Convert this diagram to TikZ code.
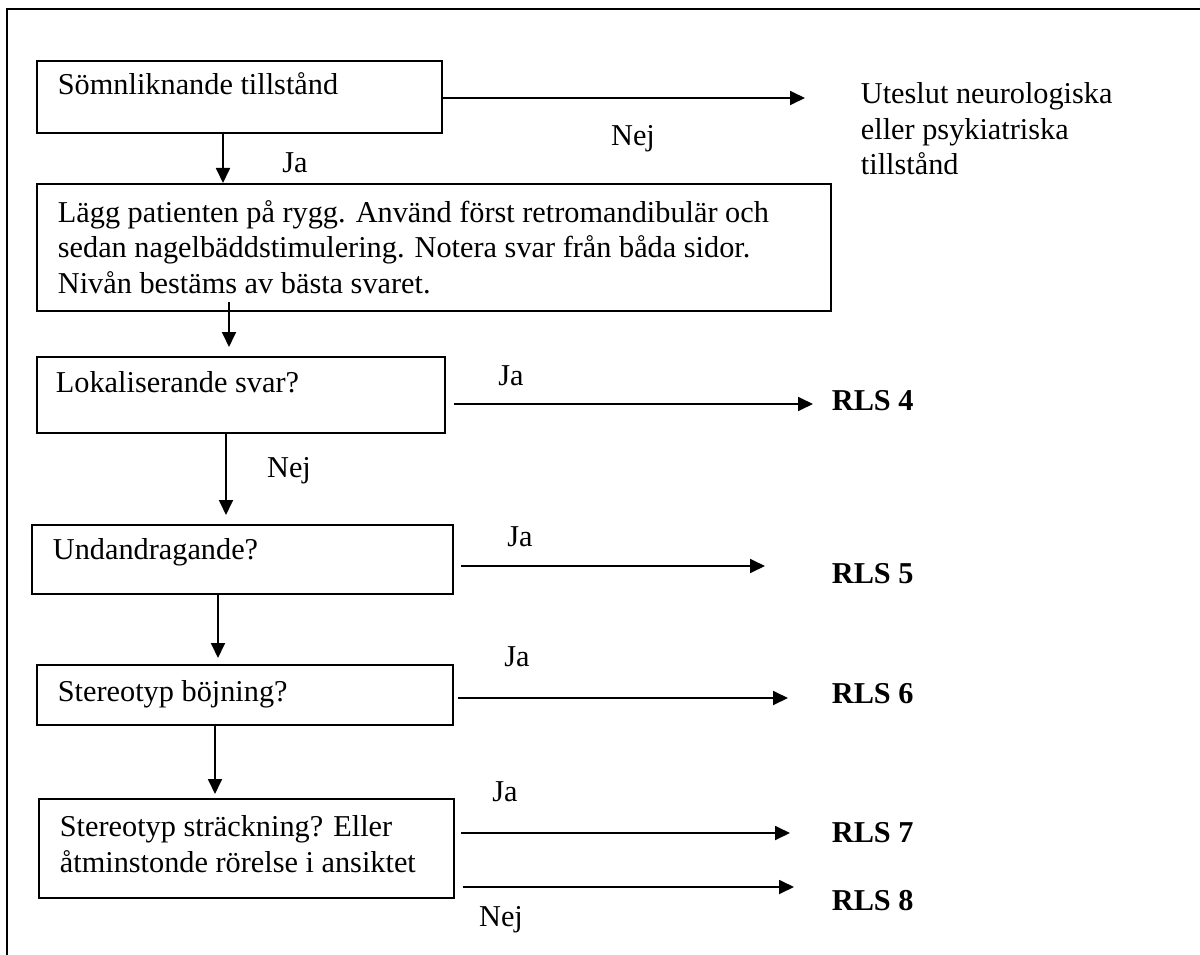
\documentclass[tikz,border=0pt]{standalone}
\usepackage{fontspec}
\setmainfont{Liberation Serif}
\usetikzlibrary{arrows.meta}
\begin{document}
\begin{tikzpicture}[x=1pt, y=-1pt, line width=1.8pt,
  box/.style = {draw, anchor=north west, inner sep=0pt},
  txt/.style = {anchor=base west, inner sep=0pt, align=left, font=\fontsize{30.3}{35.5}\selectfont},
  lbl/.style = {anchor=base, inner sep=0pt, font=\fontsize{30.3}{35.5}\selectfont},
  rls/.style = {anchor=base west, inner sep=0pt, font=\fontsize{30.3}{35.5}\selectfont\bfseries},
  arr/.style = {-{Triangle[length=15pt,width=14pt]}}]
\useasboundingbox (0,0) rectangle (1200,955);
\draw (1200,9) -| (7,955);

\node[box, minimum width=405pt, minimum height=72pt] (b1) at (36,60) {};
\node[box, minimum width=794pt, minimum height=127pt] (b2) at (36,183) {};
\node[box, minimum width=408pt, minimum height=76pt] (b3) at (36,356) {};
\node[box, minimum width=421pt, minimum height=69pt] (b4) at (31,524) {};
\node[box, minimum width=416pt, minimum height=60pt] (b5) at (36,664) {};
\node[box, minimum width=415pt, minimum height=99pt] (b6) at (38,798) {};

\node[txt] (t1) at (57,95) {Sömnliknande tillstånd};
\node[txt] (t2) at (57,293) {Lägg patienten på rygg. Använd först retromandibulär och\\sedan nagelbäddstimulering. Notera svar från båda sidor.\\Nivån bestäms av bästa svaret.};
\node[txt] (t3) at (55,392) {Lokaliserande svar?};
\node[txt] (t4) at (52,559) {Undandragande?};
\node[txt] (t5) at (57,701) {Stereotyp böjning?};
\node[txt] (t6) at (59,872) {Stereotyp sträckning? Eller\\åtminstonde rörelse i ansiktet};

\node[txt] (ut) at (860,175) {Uteslut neurologiska\\eller psykiatriska\\tillstånd};
\node[rls] (r4) at (831,410) {RLS 4};
\node[rls] (r5) at (831,583) {RLS 5};
\node[rls] (r6) at (831,703) {RLS 6};
\node[rls] (r7) at (831,842) {RLS 7};
\node[rls] (r8) at (831,910) {RLS 8};

\node[lbl] (n1) at (633,146) {Nej};
\node[lbl] (j1) at (295,172) {Ja};
\node[lbl] (j3) at (511,385) {Ja};
\node[lbl] (n3) at (289,477) {Nej};
\node[lbl] (j4) at (520,546) {Ja};
\node[lbl] (j5) at (517,666) {Ja};
\node[lbl] (j6) at (505,801) {Ja};
\node[lbl] (n6) at (501,926) {Nej};

\coordinate (e1) at (805,98);
\coordinate (e3) at (813,404);
\coordinate (e4) at (765,566);
\coordinate (e5) at (788,698);
\coordinate (e6) at (790,833);
\coordinate (e7) at (794,887);

\draw[arr] (b1.east |- e1) -- (e1);
\draw[arr, shorten <=8pt] (b3.east |- e3) -- (e3);
\draw[arr, shorten <=7pt] (b4.east |- e4) -- (e4);
\draw[arr, shorten <=4pt] (b5.east |- e5) -- (e5);
\draw[arr, shorten <=6pt] (b6.east |- e6) -- (e6);
\draw[arr, shorten <=8pt] (b6.east |- e7) -- (e7);

\draw[arr] ([xshift=187pt]b1.south west) -- ([xshift=187pt]b2.north west);
\draw[arr, shorten >=9pt] ([xshift=193pt,yshift=10pt]b2.south west) -- ([xshift=193pt]b3.north west);
\draw[arr, shorten >=9pt] ([xshift=190pt]b3.south west) -- ([xshift=195pt]b4.north west);
\draw[arr, shorten >=6pt] ([xshift=187pt]b4.south west) -- ([xshift=182pt]b5.north west);
\draw[arr, shorten >=4pt] ([xshift=179pt]b5.south west) -- ([xshift=177pt]b6.north west);
\end{tikzpicture}
\end{document}
